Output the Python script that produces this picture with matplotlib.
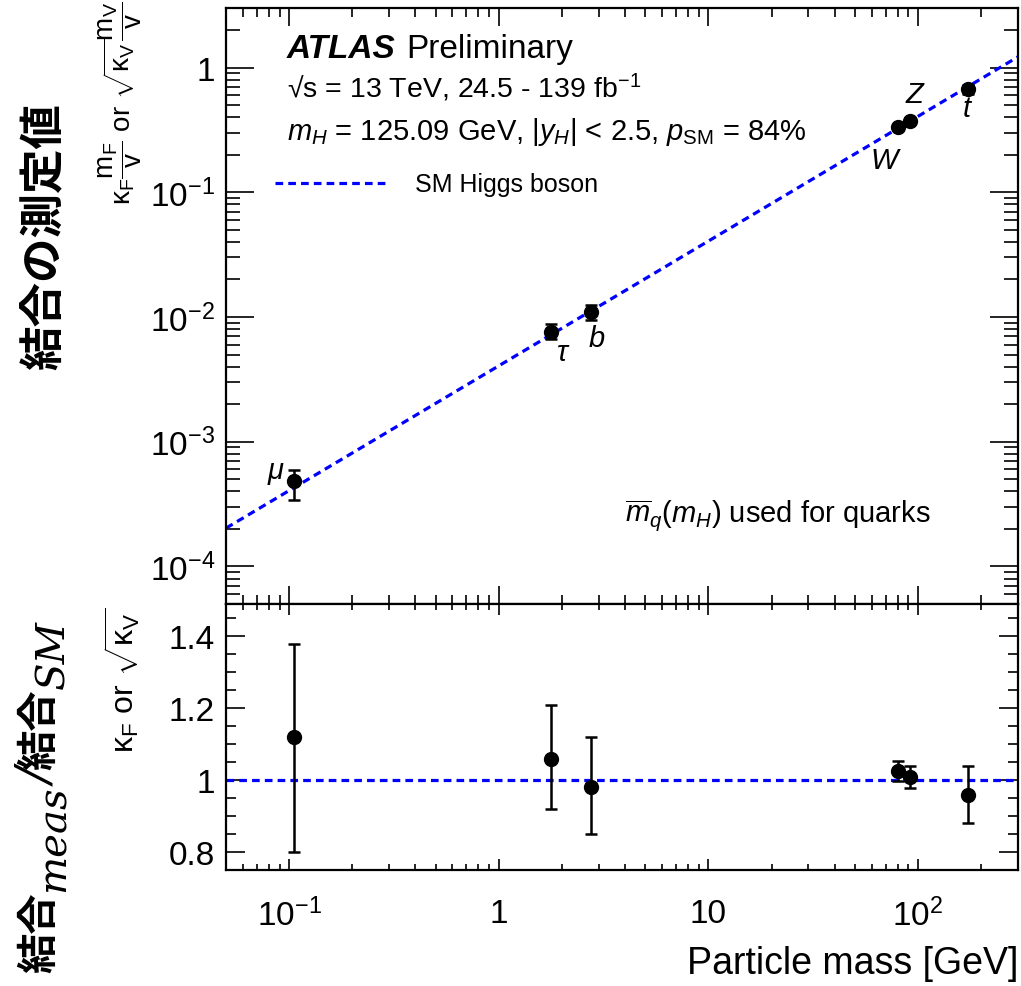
import matplotlib
matplotlib.use("Agg")
import matplotlib.pyplot as plt
from matplotlib.ticker import FixedLocator, FuncFormatter, MultipleLocator
import numpy as np

plt.rcParams['font.family'] = ['Liberation Sans', 'Noto Sans CJK JP', 'DejaVu Sans']
plt.rcParams['mathtext.fontset'] = 'custom'
plt.rcParams['mathtext.rm'] = 'Liberation Sans'
plt.rcParams['mathtext.it'] = 'Liberation Sans:italic'
plt.rcParams['mathtext.bf'] = 'Liberation Sans:bold'

# data
part_labels = [r'$\mu$', r'$\tau$', r'$b$', r'$W$', r'$Z$', r'$t$']
mass = np.array([0.1057, 1.777, 2.76, 80.4, 91.19, 172.5])  # GeV

# top panel: kappa*m/v (fermions), sqrt(kappa)*m/v (bosons)
coupling = np.array([4.81e-4, 7.65e-3, 1.10e-2, 0.335, 0.374, 0.673])
coupling_lo = np.array([3.43e-4, 6.64e-3, 9.5e-3, 0.326, 0.362, 0.617])
coupling_hi = np.array([5.92e-4, 8.73e-3, 1.255e-2, 0.344, 0.385, 0.728])

# bottom panel: kappa_F or sqrt(kappa_V)
ratio = np.array([1.12, 1.06, 0.98, 1.025, 1.01, 0.96])
ratio_lo = np.array([0.80, 0.92, 0.85, 0.997, 0.978, 0.88])
ratio_hi = np.array([1.38, 1.21, 1.12, 1.054, 1.04, 1.04])

# SM expectation line
sm_mass = [0.05, 300.0]
sm_coupling = [2.03e-4, 1.218]
sm_ratio = [1.0, 1.0]

# label offsets in points (dx, dy)
lab_off = [(-13, 7), (9, -15), (4, -19), (-9, -24), (4, 19), (0, -14)]

fig = plt.figure(figsize=(10.21, 9.87), dpi=100)
ax1 = fig.add_axes([0.2214, 0.387, 0.7757, 0.6039])
ax2 = fig.add_axes([0.2214, 0.1175, 0.7757, 0.2695])

blue = '#0000ff'
dash = (2.4, 1.6)

# ---- top panel
ax1.plot(sm_mass, sm_coupling, color=blue, lw=2.3, dashes=dash, label='SM Higgs boson')
ax1.errorbar(mass, coupling, yerr=[coupling - coupling_lo, coupling_hi - coupling],
             fmt='o', color='black', ms=10, capsize=4.5, elinewidth=1.8, capthick=1.8)
for i in range(len(mass)):
    ax1.annotate(part_labels[i], (mass[i], coupling[i]), xytext=lab_off[i],
                 textcoords='offset points', ha='center', va='center', fontsize=21)

ax1.set_xscale('log')
ax1.set_yscale('log')
ax1.set_xlim(0.05, 300)
ax1.set_ylim(5e-5, 3)

ax1.text(0.077, 0.918, 'ATLAS', transform=ax1.transAxes, fontsize=24,
         fontweight='bold', fontstyle='italic', va='baseline')
ax1.text(0.228, 0.918, 'Preliminary', transform=ax1.transAxes, fontsize=24, va='baseline')
ax1.text(0.077, 0.851, '√s = 13 TeV, 24.5 - 139 fb$^{-1}$',
         transform=ax1.transAxes, fontsize=20.5, va='baseline')
ax1.text(0.077, 0.78, r'$m_H$ = 125.09 GeV, $|y_H|$ < 2.5, $p_\mathrm{SM}$ = 84%',
         transform=ax1.transAxes, fontsize=21, va='baseline')
ax1.text(0.504, 0.139, r'$\overline{m}_q(m_H)$ used for quarks',
         transform=ax1.transAxes, fontsize=21, va='baseline')

ax1.legend(loc='upper left', bbox_to_anchor=(0.033, 0.762), frameon=False,
           fontsize=18, handlelength=4.6, handletextpad=1.0)

ax1.yaxis.set_major_locator(FixedLocator([1e-4, 1e-3, 1e-2, 1e-1, 1]))
ax1.yaxis.set_minor_locator(FixedLocator([m * 10.0**e for e in range(-5, 1) for m in range(2, 10)]))
ytl = {1e-4: r'$10^{-4}$', 1e-3: r'$10^{-3}$', 1e-2: r'$10^{-2}$', 1e-1: r'$10^{-1}$', 1: '1'}
ax1.yaxis.set_major_formatter(FuncFormatter(lambda v, p: min(ytl.items(), key=lambda kv: abs(np.log10(kv[0]) - np.log10(v)))[1]))

# ---- bottom panel
ax2.plot(sm_mass, sm_ratio, color=blue, lw=2.3, dashes=dash)
ax2.errorbar(mass, ratio, yerr=[ratio - ratio_lo, ratio_hi - ratio],
             fmt='o', color='black', ms=10, capsize=4.5, elinewidth=1.8, capthick=1.8)
ax2.set_xscale('log')
ax2.set_xlim(0.05, 300)
ax2.set_ylim(0.75, 1.49)
ax2.yaxis.set_major_locator(FixedLocator([0.8, 1.0, 1.2, 1.4]))
ax2.yaxis.set_minor_locator(MultipleLocator(0.05))
ax2.yaxis.set_major_formatter(FuncFormatter(lambda v, p: '%g' % v))

xtl = {0.1: r'$10^{-1}$', 1: '1', 10: '10', 100: r'$10^{2}$'}
for ax in (ax1, ax2):
    ax.xaxis.set_major_locator(FixedLocator([0.1, 1, 10, 100]))
    ax.xaxis.set_minor_locator(FixedLocator([m * 10.0**e for e in range(-2, 3) for m in range(2, 10)]))
    for s in ax.spines.values():
        s.set_linewidth(1.6)
ax1.tick_params(axis='x', which='both', labelbottom=False)
ax2.xaxis.set_major_formatter(FuncFormatter(lambda v, p: min(xtl.items(), key=lambda kv: abs(np.log10(kv[0]) - np.log10(v)))[1]))

ax1.tick_params(axis='x', which='major', direction='in', top=True, bottom=True, length=13, width=1.2)
ax1.tick_params(axis='x', which='minor', direction='in', top=True, bottom=True, length=6.5, width=1.2)
ax1.tick_params(axis='y', which='major', direction='in', left=True, right=True, length=20, width=1.2, labelsize=24, pad=8)
ax1.tick_params(axis='y', which='minor', direction='in', left=True, right=True, length=10, width=1.2)
ax2.tick_params(axis='x', which='major', direction='in', top=True, bottom=True, length=8, width=1.2, labelsize=24, pad=20)
ax2.tick_params(axis='x', which='minor', direction='in', top=True, bottom=True, length=4, width=1.2)
ax2.tick_params(axis='y', which='major', direction='in', left=True, right=True, length=14, width=1.2, labelsize=24, pad=8)
ax2.tick_params(axis='y', which='minor', direction='in', left=True, right=True, length=7, width=1.2)

ax2.set_xlabel('Particle mass [GeV]', fontsize=27, loc='right', labelpad=9)

# y labels
fig.text(45 / 1021, 1 - 236 / 987, '結合の測定値', rotation=90, fontsize=32,
         fontweight='bold', ha='center', va='center')
fig.text(120 / 1021, 1 - 103 / 987,
         r'$\mathrm{\kappa_F}\dfrac{\mathrm{m_F}}{\mathrm{v}}$ or $\sqrt{\mathrm{\kappa_V}}\dfrac{\mathrm{m_V}}{\mathrm{v}}$',
         rotation=90, fontsize=20, ha='center', va='center')
fig.text(122 / 1021, 1 - 680 / 987, r'$\mathrm{\kappa_F}$ or $\sqrt{\mathrm{\kappa_V}}$',
         rotation=90, fontsize=23, ha='center', va='center')

# ratio label, built piece by piece (CJK + serif italic subscripts)
renderer = fig.canvas.get_renderer()
pieces = [('結合', 0, dict(fontsize=29, fontweight='bold')),
          ('meas', 14, dict(fontsize=29, family='DejaVu Serif', style='italic')),
          ('/', 0, dict(fontsize=34, family='DejaVu Serif', style='italic')),
          ('結合', 0, dict(fontsize=29, fontweight='bold')),
          ('SM', 14, dict(fontsize=29, family='DejaVu Serif', style='italic'))]
ypos = 1 - 973 / 987
for s, dx, kw in pieces:
    t = fig.text((40 + dx) / 1021, ypos, s, rotation=90, ha='center', va='bottom', **kw)
    bb = t.get_window_extent(renderer)
    ypos += bb.height / fig.bbox.height

fig.savefig('out.png', dpi=100)
